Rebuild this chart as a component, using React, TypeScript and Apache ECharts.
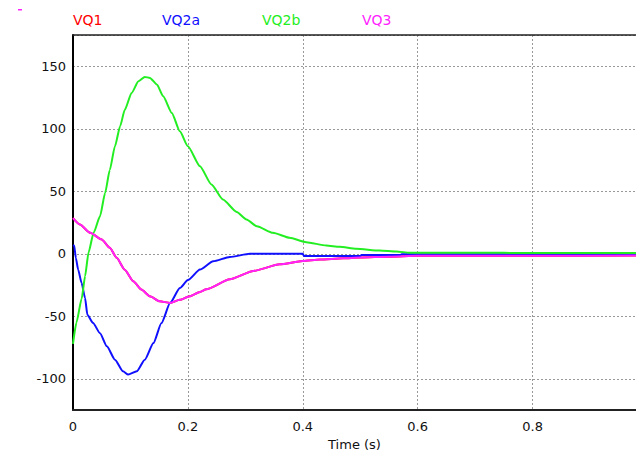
import React, { useEffect, useRef } from "react";
import * as echarts from "echarts";

const seriesNames = ["VQ1", "VQ2a", "VQ2b", "VQ3"];
const seriesColors = ["#ff0000", "#1010ff", "#22ee22", "#ff22ff"];

const tVQ2b = [0, 0.006, 0.015, 0.021, 0.027, 0.036, 0.047, 0.056, 0.064, 0.073, 0.082, 0.09, 0.102, 0.114, 0.125, 0.134, 0.146, 0.157, 0.172, 0.186, 0.2, 0.221, 0.241, 0.261, 0.285, 0.302, 0.32, 0.348, 0.377, 0.406, 0.441, 0.464, 0.493, 0.534, 0.563, 0.586, 0.7, 0.8, 0.9, 0.98];
const vVQ2b = [-72, -55, -36, -18, 1, 17, 30, 48.8, 67, 86, 102, 115, 128.7, 138, 141.5, 140.7, 135.4, 126, 112.7, 98, 86, 70, 55.4, 43.4, 33.5, 27.5, 22, 16.8, 12.8, 9.3, 6.6, 5.6, 4, 2.6, 1.8, 0.9, 0.8, 0.7, 0.6, 0.6];

const tVQ2a = [0, 0.002, 0.005, 0.009, 0.015, 0.021, 0.025, 0.035, 0.047, 0.059, 0.073, 0.087, 0.096, 0.111, 0.125, 0.14, 0.154, 0.169, 0.186, 0.2, 0.221, 0.244, 0.273, 0.308, 0.4, 0.402, 0.5, 0.502, 0.57, 0.572, 0.98];
const vVQ2a = [7, 6.6, -3.3, -12.7, -23.4, -35.4, -48.8, -55.4, -63.5, -74, -84.7, -94, -96.6, -94, -84.7, -71.4, -55.4, -39.4, -27.4, -21, -12.6, -6, -2.5, 0, 0, -1.8, -1.8, -1, -1, -0.3, -0.3];

const tVQ3 = [0, 0.012, 0.03, 0.05, 0.064, 0.076, 0.09, 0.105, 0.119, 0.134, 0.151, 0.169, 0.186, 0.203, 0.221, 0.232, 0.273, 0.314, 0.36, 0.4, 0.43, 0.47, 0.5, 0.55, 0.6, 0.8, 0.98];
const vVQ3 = [28.5, 23.4, 16.8, 11.4, 4.8, -3.2, -12.7, -22, -28.6, -34, -38, -39.3, -36.8, -34, -30.5, -28.4, -20.4, -13.7, -8.4, -5.8, -4.6, -3.6, -3, -2.3, -1.6, -1.5, -1.4];

// VQ1 lies under VQ3 in the reference (not visible)
const tVQ1 = tVQ3;
const vVQ1 = vVQ3;

const xTicks = [0, 0.2, 0.4, 0.6, 0.8];
const yTicks = [-100, -50, 0, 50, 100, 150];

const pair = (t: number[], v: number[]) => t.map((x, i) => [x, v[i]]);

export default function App() {
  const ref = useRef<HTMLDivElement>(null);
  useEffect(() => {
    if (!ref.current) return;
    const chart = echarts.init(ref.current, undefined, { renderer: "svg" });
    const font = "DejaVu Sans";
    const data = [pair(tVQ1, vVQ1), pair(tVQ2a, vVQ2a), pair(tVQ2b, vVQ2b), pair(tVQ3, vVQ3)];
    const legendX = [73, 162, 262, 362];
    chart.setOption({
      animation: false,
      backgroundColor: "#ffffff",
      grid: { left: 73, right: 0, top: 35, bottom: 45, containLabel: false },
      xAxis: [
        {
          type: "value",
          min: 0,
          max: 0.98,
          interval: 0.2,
          name: "Time (s)",
          nameLocation: "middle",
          nameGap: 27,
          nameTextStyle: { fontFamily: font, fontSize: 13, color: "#111" },
          axisLine: { show: true, onZero: false, lineStyle: { color: "#222", width: 2 } },
          axisTick: { show: false },
          axisLabel: {
            fontFamily: font,
            fontSize: 13,
            color: "#111",
            margin: 10,
            showMaxLabel: false,
            formatter: (v: number) => (xTicks.some((t) => Math.abs(t - v) < 1e-9) ? String(+v.toFixed(1)) : ""),
          },
          splitLine: { show: true, lineStyle: { color: "#999", width: 1, type: [2, 2] } },
        },
        {
          type: "value",
          position: "top",
          min: 0,
          max: 0.98,
          axisLine: { show: true, onZero: false, lineStyle: { color: "#222", width: 1.5 } },
          axisTick: { show: false },
          axisLabel: { show: false },
          splitLine: { show: false },
        },
      ],
      yAxis: {
        type: "value",
        min: -125,
        max: 175,
        splitNumber: 6,
        axisLine: { show: true, onZero: false, lineStyle: { color: "#000", width: 2 } },
        axisTick: { show: false },
        axisLabel: {
          fontFamily: font,
          fontSize: 13,
          color: "#111",
          margin: 7,
          showMinLabel: false,
          showMaxLabel: false,
          formatter: (v: number) => (yTicks.includes(v) ? String(v) : ""),
        },
        splitLine: { show: true, lineStyle: { color: "#999", width: 1, type: [2, 2] } },
      },
      graphic: [
        { type: "rect", shape: { x: 18, y: 9, width: 4, height: 1.5 }, style: { fill: "#ff22ff" } },
        ...seriesNames.map((n, i) => ({
          type: "text",
          x: legendX[i],
          y: 20,
          style: {
            text: n,
            fill: seriesColors[i],
            font: `14px '${font}'`,
            verticalAlign: "middle",
          },
        })),
      ],
      series: seriesNames.map((n, i) => ({
        name: n,
        type: "line",
        data: data[i],
        showSymbol: false,
        smooth: 0.2,
        smoothMonotone: "x",
        lineStyle: { color: seriesColors[i], width: 2 },
        itemStyle: { color: seriesColors[i] },
        clip: true,
      })),
    });
    return () => chart.dispose();
  }, []);
  return <div ref={ref} style={{ width: 636, height: 456, position: "absolute", left: 0, top: 0 }} />;
}
